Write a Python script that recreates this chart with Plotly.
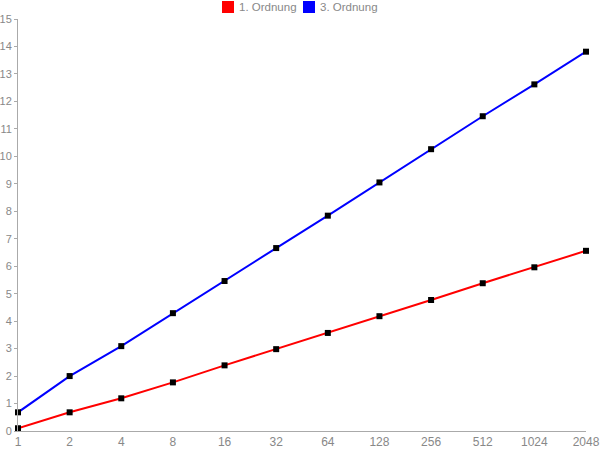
import plotly.graph_objects as go

categories = ["1", "2", "4", "8", "16", "32", "64", "128", "256", "512", "1024", "2048"]
first_order = [0.10, 0.68, 1.19, 1.77, 2.39, 2.98, 3.57, 4.18, 4.77, 5.38, 5.96, 6.56]
third_order = [0.68, 2.00, 3.09, 4.29, 5.46, 6.66, 7.84, 9.05, 10.26, 11.46, 12.62, 13.81]
series_names = ["1. Ordnung", "3. Ordnung"]
series_colors = ["#ff0000", "#0000ff"]
y_ticks = list(range(0, 16))

W, H = 600, 450
ML, MR, MT, MB = 18, 14, 19, 19
PW, PH = W - ML - MR, H - MT - MB

def px_x(p):
    return (p - ML) / PW

def px_y(p):
    return (H - MB - p) / PH

fig = go.Figure()
for name, vals, col in zip(series_names, [first_order, third_order], series_colors):
    fig.add_trace(go.Scatter(
        x=categories, y=vals, mode="lines+markers", name=name, showlegend=False,
        line=dict(color=col, width=2),
        marker=dict(symbol="square", size=6, color="black"),
        cliponaxis=False,
    ))

# legend drawn as coloured squares + text
legend_square_left = [222, 303]
for name, col, left in zip(series_names, series_colors, legend_square_left):
    fig.add_shape(type="rect", xref="paper", yref="paper",
                  x0=px_x(left), x1=px_x(left + 12), y0=px_y(13), y1=px_y(1),
                  fillcolor=col, line=dict(width=0))
    fig.add_annotation(xref="paper", yref="paper", x=px_x(left + 15), y=px_y(7),
                       xanchor="left", yanchor="middle", text=name, showarrow=False,
                       font=dict(size=11.5, color="#888888"))

fig.update_layout(
    width=W, height=H,
    margin=dict(l=ML, r=MR, t=MT, b=MB, autoexpand=False),
    paper_bgcolor="white", plot_bgcolor="white",
    font=dict(family="Liberation Sans, Arial, sans-serif", size=12, color="#888888"),
    showlegend=False,
)
fig.update_xaxes(
    type="category", range=[0, 11], showgrid=False, zeroline=False,
    showline=True, linecolor="#aaaaaa", linewidth=1, ticks="",
    automargin=False, tickfont=dict(size=12, color="#888888"),
)
fig.update_yaxes(
    range=[0, 15], tickvals=y_ticks, showgrid=False, zeroline=False,
    showline=True, linecolor="#aaaaaa", linewidth=1, ticks="outside", ticklen=3,
    tickcolor="#aaaaaa", automargin=False, ticklabelstandoff=0,
    tickfont=dict(size=11, color="#888888"),
)

fig.write_html("out.html", config={"displayModeBar": False},
               post_script="document.body.style.margin='0';")
